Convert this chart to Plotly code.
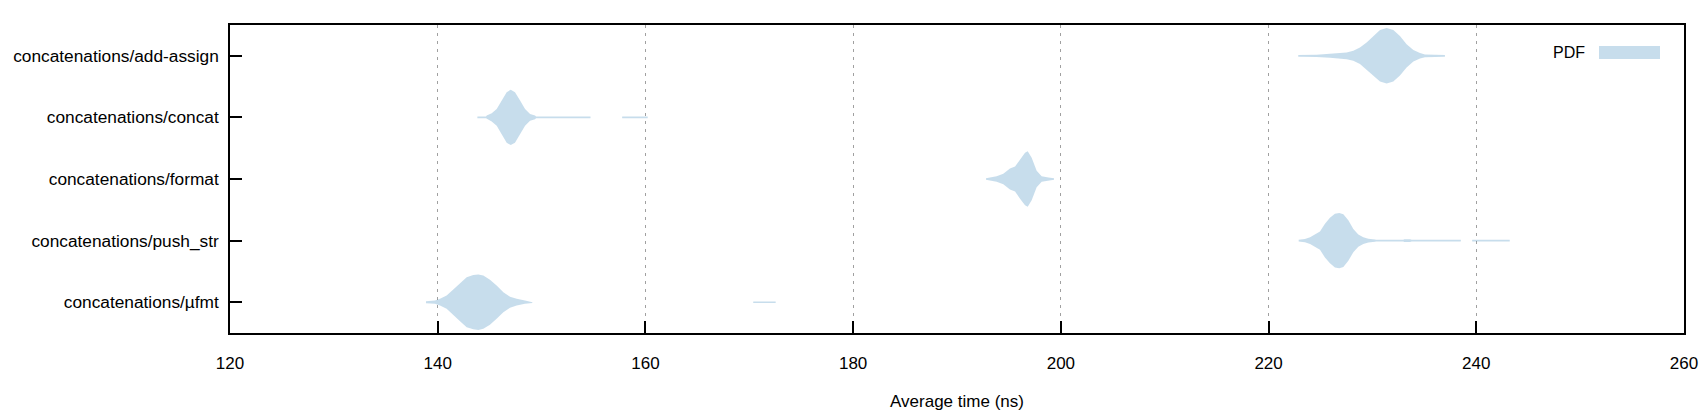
import plotly.graph_objects as go

# Benchmarks (bottom to top)
benchmarks = [
    "concatenations/µfmt",
    "concatenations/push_str",
    "concatenations/format",
    "concatenations/concat",
    "concatenations/add-assign",
]

# Average time (ns) sample points and relative density (peak = 1) for each benchmark
ufmt_x = [138.87, 139.74, 140.22, 140.86, 141.50, 142.15, 142.79, 143.43, 143.91, 144.39,
          145.03, 145.67, 146.32, 146.96, 147.60, 148.40, 149.10, 149.12, 170.37, 170.39, 172.54]
ufmt_d = [0.035, 0.06, 0.12, 0.24, 0.46, 0.69, 0.90, 0.98, 1.0, 0.96,
          0.81, 0.60, 0.36, 0.20, 0.12, 0.06, 0.025, 0.0, 0.0, 0.025, 0.025]

push_x = [222.90, 223.50, 224.00, 224.50, 224.95, 225.43, 225.91, 226.39, 226.81, 227.20,
          227.68, 228.16, 228.64, 229.12, 229.60, 230.25, 230.34, 232.97, 233.07, 233.62,
          233.78, 238.50, 238.52, 239.60, 239.62, 243.22]
push_d = [0.03, 0.06, 0.12, 0.22, 0.33, 0.61, 0.82, 0.97, 1.0, 0.95,
          0.73, 0.42, 0.22, 0.12, 0.07, 0.04, 0.03, 0.03, 0.05, 0.05,
          0.03, 0.03, 0.0, 0.0, 0.03, 0.03]

format_x = [192.79, 193.18, 193.82, 194.46, 195.10, 195.59, 196.07, 196.55, 196.81, 197.19,
            197.67, 198.15, 198.80, 199.34]
format_d = [0.03, 0.06, 0.10, 0.19, 0.38, 0.45, 0.71, 0.95, 1.0, 0.77,
            0.30, 0.10, 0.05, 0.03]

concat_x = [143.82, 144.65, 144.72, 145.20, 145.68, 146.16, 146.64, 147.03, 147.44, 147.93,
            148.41, 148.89, 149.37, 149.47, 154.70, 154.72, 157.75, 157.77, 160.22]
concat_d = [0.03, 0.035, 0.07, 0.15, 0.30, 0.61, 0.91, 1.0, 0.91, 0.61,
            0.30, 0.12, 0.07, 0.03, 0.03, 0.0, 0.0, 0.03, 0.03]

add_x = [222.86, 223.02, 224.63, 225.91, 227.52, 228.16, 228.80, 229.44, 230.08, 230.73,
         231.37, 232.01, 232.65, 233.29, 233.94, 234.58, 235.06, 235.86, 236.98]
add_d = [0.03, 0.03, 0.04, 0.07, 0.12, 0.18, 0.30, 0.48, 0.71, 0.93,
         1.0, 0.93, 0.71, 0.42, 0.21, 0.10, 0.05, 0.035, 0.03]

x_ticks = [120, 140, 160, 180, 200, 220, 240, 260]

series = [(ufmt_x, ufmt_d), (push_x, push_d), (format_x, format_d),
          (concat_x, concat_d), (add_x, add_d)]

HALF = 0.45
FILL = "rgba(31,120,180,0.25)"
FONT = "Liberation Sans, Arial, sans-serif"
FS = 17
FSY = 17.3

fig = go.Figure()
for i, (xs, ds) in enumerate(series):
    upper = [i + HALF * d for d in ds]
    lower = [i - HALF * d for d in ds]
    fig.add_trace(go.Scatter(
        x=xs + xs[::-1],
        y=upper + lower[::-1],
        mode="lines",
        fill="toself",
        fillcolor=FILL,
        line=dict(width=0, color=FILL),
        hoverinfo="skip",
        showlegend=False,
    ))

fig.update_layout(
    width=1703, height=411,
    margin=dict(l=230, r=19, t=25, b=78),
    paper_bgcolor="white", plot_bgcolor="white",
    font=dict(family=FONT, size=FS, color="black"),
    showlegend=False,
)
fig.update_xaxes(
    range=[120, 260],
    tickvals=x_ticks,
    ticktext=[str(v) for v in x_ticks],
    ticks="inside", ticklen=12, tickwidth=1.5, tickcolor="black",
    showline=True, linecolor="black", linewidth=1.5, mirror=True,
    showgrid=True, gridcolor="#a0a0a0", gridwidth=1, griddash="3px,5px",
    zeroline=False,
    ticklabelstandoff=14,
    title=dict(text="Average time (ns)", standoff=23, font=dict(size=FS)),
    tickfont=dict(size=FS),
    automargin=False,
)
fig.update_yaxes(
    range=[-0.5, 4.5],
    tickvals=list(range(len(benchmarks))),
    ticktext=benchmarks,
    ticks="inside", ticklen=12, tickwidth=1.5, tickcolor="black",
    showline=True, linecolor="black", linewidth=1.5, mirror=True,
    showgrid=False, zeroline=False,
    ticklabelstandoff=6,
    tickfont=dict(size=FSY),
    automargin=False,
)

# Legend (gnuplot style: label then swatch)
fig.add_shape(type="rect", xref="paper", yref="paper",
              x0=(1599 - 230) / 1454, x1=(1660 - 230) / 1454,
              y0=(333 - 59) / 308, y1=(333 - 46) / 308,
              fillcolor=FILL, line=dict(width=0))
fig.add_annotation(text="PDF", xref="paper", yref="paper",
                   x=(1587 - 230) / 1454, y=(333 - 52.5) / 308,
                   xanchor="right", yanchor="middle", showarrow=False,
                   font=dict(family=FONT, size=16, color="black"))

fig.write_html("out.html",
               config={"displayModeBar": False},
               post_script="document.body.style.margin='0';document.body.style.overflow='hidden';")
